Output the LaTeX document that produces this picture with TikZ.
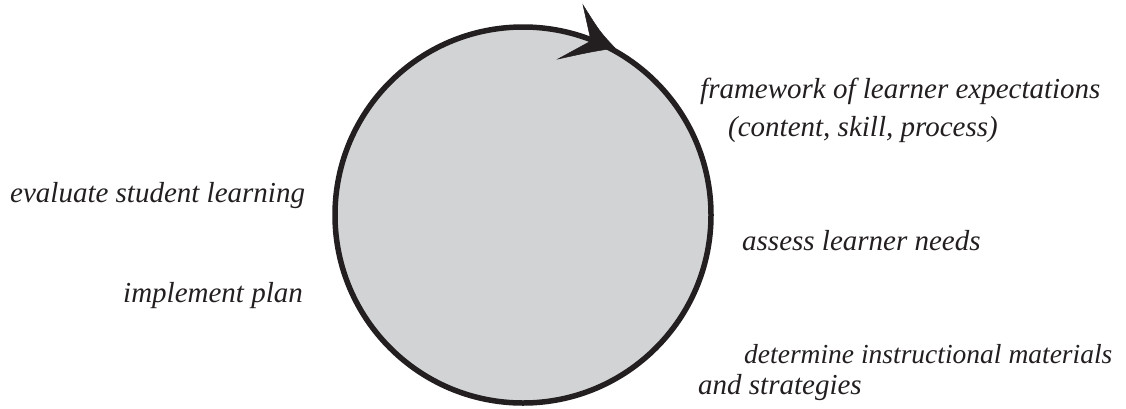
\documentclass[tikz,border=0pt]{standalone}
\usepackage{fontspec}
\setmainfont{Liberation Serif}
\usetikzlibrary{arrows.meta}
\definecolor{ink}{HTML}{231F20}
\definecolor{disc}{HTML}{D1D3D4}
\begin{document}
\begin{tikzpicture}[x=1pt,y=-1pt,
  lbl/.style={anchor=base west, inner sep=0pt, text=ink,
    font=\fontsize{29}{34}\selectfont\itshape},
  ring/.style={circle, draw=ink, fill=disc, line width=5.5pt,
    minimum size=376pt, inner sep=0pt},
  head/.style={fill=ink, draw=ink, line width=0.5pt, line join=miter}]
\useasboundingbox (0,0) rectangle (1126,408);
\node[ring] (cyc) at (523,215) {};
\coordinate (tip) at (615,48);
\coordinate (backA) at (583,5);
\coordinate (notch) at (591,41);
\coordinate (backB) at (558,59);
\fill[head] (tip) .. controls (600,32) .. (backA) -- (notch) -- (backB) .. controls (590,52) .. (tip) -- cycle;
\node[lbl] (fw) at (700,98) {framework of learner expectations};
\node[lbl] (cs) at (728,136) {(content, skill, process)};
\node[lbl] (ev) at (10,202) {evaluate student learning};
\node[lbl] (as) at (742,250) {assess learner needs};
\node[lbl] (im) at (123,302) {implement plan};
\node[lbl, font=\fontsize{27.5}{33}\selectfont\itshape] (dm) at (744,363) {determine instructional materials};
\node[lbl] (st) at (698,394) {and strategies};
\end{tikzpicture}
\end{document}
